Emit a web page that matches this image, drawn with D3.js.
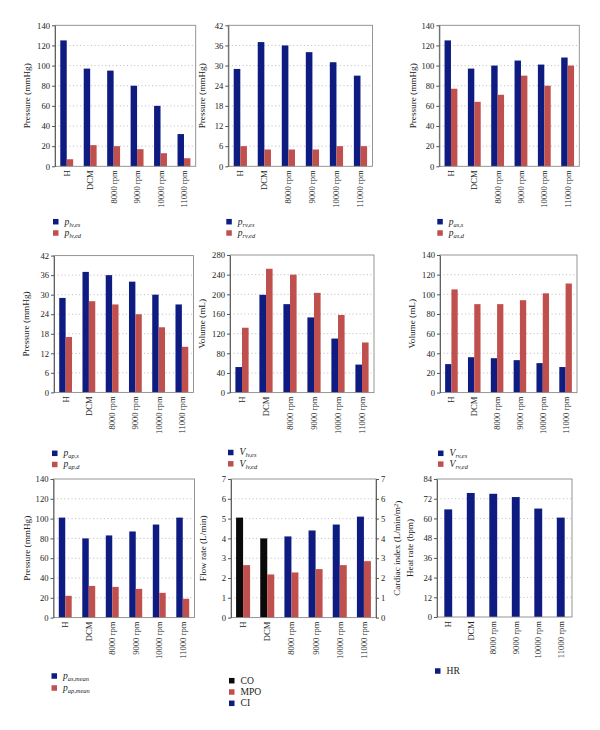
<!DOCTYPE html>
<html>
<head>
<meta charset="utf-8">
<script src="https://cdn.jsdelivr.net/npm/d3@7"></script>
<style>
  html, body { margin: 0; padding: 0; background: #fff; }
  svg { display: block; }
  text { font-family: "Liberation Serif", "DejaVu Serif", serif; fill: #222; }
</style>
</head>
<body>
<svg id="chart" width="600" height="730"></svg>
<script>
// ---------- data ----------
const categories = ["H", "DCM", "8000 rpm", "9000 rpm", "10000 rpm", "11000 rpm"];

const plvES = [125, 97, 95, 80, 60, 32];
const plvED = [7, 21, 20, 17, 13, 8];
const prvES = [29, 37, 36, 34, 31, 27];
const prvED = [6, 5, 5, 5, 6, 6];
const pasS  = [125, 97, 100, 105, 101, 108];
const pasD  = [77, 64, 71, 90, 80, 100];
const papS  = [29, 37, 36, 34, 30, 27];
const papD  = [17, 28, 27, 24, 20, 14];
const VlvES = [52, 199, 180, 153, 110, 57];
const VlvED = [132, 252, 240, 203, 158, 102];
const VrvES = [29, 36, 35, 33, 30, 26];
const VrvED = [105, 90, 90, 94, 101, 111];
const pasMean = [101, 80, 83, 87, 94, 101];
const papMean = [22, 32, 31, 29, 25, 19];
const CO  = [5.05, 4.0, null, null, null, null];
const MPO = [2.65, 2.18, 2.28, 2.45, 2.65, 2.85];
const CI  = [null, null, 4.1, 4.4, 4.7, 5.1];
const HR  = [65.5, 75.5, 75, 73, 66, 60.5];

const ticks140 = [0, 20, 40, 60, 80, 100, 120, 140];
const ticks42  = [0, 6, 12, 18, 24, 30, 36, 42];
const ticks280 = [0, 40, 80, 120, 160, 200, 240, 280];
const ticks7   = [0, 1, 2, 3, 4, 5, 6, 7];
const ticks84  = [0, 12, 24, 36, 48, 60, 72, 84];

// legend labels: [main, subscript]
const legLV   = [["p", "lv,es"], ["p", "lv,ed"]];
const legRV   = [["p", "rv,es"], ["p", "rv,ed"]];
const legAS   = [["p", "as,s"], ["p", "as,d"]];
const legAP   = [["p", "ap,s"], ["p", "ap,d"]];
const legVLV  = [["V", "lv,es"], ["V", "lv,ed"]];
const legVRV  = [["V", "rv,es"], ["V", "rv,ed"]];
const legMean = [["p", "as,mean"], ["p", "ap,mean"]];
const legFlow = [["CO", ""], ["MPO", ""], ["CI", ""]];
const legHR   = [["HR", ""]];

// ---------- styles ----------
const BLUE = "#0e1b80", RED = "#c0504d", BLACK = "#0a0a0a";
const fmt = d3.format("d");

const svg = d3.select("#chart");

function styleAxis(sel) {
  sel.select(".domain").attr("stroke", "#555").attr("stroke-width", 0.9);
  sel.selectAll(".tick line").attr("stroke", "#555");
  sel.selectAll("text").style("font-size", "8.6px").style("font-family", "Liberation Serif, serif").attr("fill", "#222");
}

function drawPanel(cfg) {
  const g = svg.append("g");
  const n = cfg.series.length;
  const x = d3.scaleBand().domain(categories).range([cfg.x0, cfg.x1])
    .paddingInner(cfg.pad).paddingOuter(cfg.pad / 2);
  const xs = d3.scaleBand().domain(d3.range(n)).range([0, x.bandwidth()]);
  const y = d3.scaleLinear().domain([0, cfg.ticks[cfg.ticks.length - 1]]).range([cfg.y1, cfg.y0]);

  // gridlines
  g.selectAll("line.grid").data(cfg.ticks.slice(1, -1)).enter().append("line")
    .attr("x1", cfg.x0).attr("x2", cfg.x1)
    .attr("y1", d => y(d)).attr("y2", d => y(d))
    .attr("stroke", "#a8a8a8").attr("stroke-width", 0.8)
    .attr("stroke-dasharray", "1,2.6");

  // bars
  cfg.series.forEach((s, si) => {
    const rows = categories.map((c, i) => {
      let v = s.values[i], col = s.color;
      if ((v === null || v === undefined) && s.alt) { v = s.alt[i]; col = s.altColor; }
      return { c, v, col };
    }).filter(r => r.v !== null && r.v !== undefined);
    g.selectAll(null).data(rows).enter().append("rect")
      .attr("x", d => x(d.c) + xs(si))
      .attr("width", xs.bandwidth())
      .attr("y", d => y(d.v))
      .attr("height", d => y(0) - y(d.v))
      .attr("fill", d => d.col);
  });

  // box
  g.append("rect").attr("x", cfg.x0).attr("y", cfg.y0)
    .attr("width", cfg.x1 - cfg.x0).attr("height", cfg.y1 - cfg.y0)
    .attr("fill", "none").attr("stroke", "#8a8a8a").attr("stroke-width", 0.9);

  // left axis
  const ax = g.append("g").attr("transform", `translate(${cfg.x0},0)`)
    .call(d3.axisLeft(y).tickValues(cfg.ticks).tickFormat(fmt).tickSize(3).tickSizeOuter(0).tickPadding(2));
  styleAxis(ax);

  // right axis (optional)
  if (cfg.rightLabel) {
    const axR = g.append("g").attr("transform", `translate(${cfg.x1},0)`)
      .call(d3.axisRight(y).tickValues(cfg.ticks).tickFormat(fmt).tickSize(3).tickSizeOuter(0).tickPadding(2));
    styleAxis(axR);
    const t = g.append("text")
      .attr("transform", `translate(${cfg.x1 + 21},${(cfg.y0 + cfg.y1) / 2}) rotate(-90)`)
      .attr("text-anchor", "middle").attr("dy", "0.35em")
      .style("font-size", "9.2px");
    t.append("tspan").text("Cardiac index (L/min/m");
    t.append("tspan").text("2").attr("dy", "-0.4em").style("font-size", "6.5px");
    t.append("tspan").text(")").attr("dy", "0.4em");
  }

  // x labels
  g.selectAll("text.xl").data(categories).enter().append("text")
    .attr("transform", d => `translate(${x(d) + x.bandwidth() / 2},${cfg.y1 + 4}) rotate(-90)`)
    .attr("text-anchor", "end").attr("dy", "0.35em")
    .style("font-size", "8.6px")
    .text(d => d);

  // y label
  g.append("text")
    .attr("transform", `translate(${cfg.x0 - cfg.ylOff},${(cfg.y0 + cfg.y1) / 2}) rotate(-90)`)
    .attr("text-anchor", "middle").attr("dy", "0.35em")
    .style("font-size", "9.2px")
    .text(cfg.ylabel);

  // legend
  cfg.legend.forEach((lab, i) => {
    const ly = cfg.legY + i * cfg.legStep;
    g.append("rect").attr("x", cfg.x0 - 2).attr("y", ly - 2.75)
      .attr("width", 5.5).attr("height", 5.5).attr("fill", cfg.legColors[i]);
    const t = g.append("text").attr("x", cfg.x0 + 9.5).attr("y", ly).attr("dy", "0.3em")
      .style("font-size", "9.6px");
    if (lab[1]) {
      t.append("tspan").text(lab[0]).style("font-style", "italic");
      t.append("tspan").text(lab[1]).attr("dy", "0.3em").style("font-size", "6.4px").style("font-style", "italic");
    } else {
      t.text(lab[0]);
    }
  });
}

const P = [
  { x0: 55, x1: 195.7, y0: 25.3, y1: 166.3, ticks: ticks140, ylabel: "Pressure (mmHg)", ylOff: 28,
    series: [{ values: plvES, color: BLUE }, { values: plvED, color: RED }], pad: 0.45,
    legend: legLV, legColors: [BLUE, RED], legY: 221.7, legStep: 11.3 },
  { x0: 228.3, x1: 372.5, y0: 25.3, y1: 166.3, ticks: ticks42, ylabel: "Pressure (mmHg)", ylOff: 26.5,
    series: [{ values: prvES, color: BLUE }, { values: prvED, color: RED }], pad: 0.45,
    legend: legRV, legColors: [BLUE, RED], legY: 221.7, legStep: 11.3 },
  { x0: 439.3, x1: 579.3, y0: 25.3, y1: 166.3, ticks: ticks140, ylabel: "Pressure (mmHg)", ylOff: 27,
    series: [{ values: pasS, color: BLUE }, { values: pasD, color: RED }], pad: 0.45,
    legend: legAS, legColors: [BLUE, RED], legY: 221.7, legStep: 11.3 },

  { x0: 54, x1: 193.5, y0: 255.6, y1: 392.4, ticks: ticks42, ylabel: "Pressure (mmHg)", ylOff: 28,
    series: [{ values: papS, color: BLUE }, { values: papD, color: RED }], pad: 0.45,
    legend: legAP, legColors: [BLUE, RED], legY: 453.3, legStep: 11.2 },
  { x0: 230, x1: 374, y0: 255, y1: 392.6, ticks: ticks280, ylabel: "Volume (mL)", ylOff: 28,
    series: [{ values: VlvES, color: BLUE }, { values: VlvED, color: RED }], pad: 0.45,
    legend: legVLV, legColors: [BLUE, RED], legY: 452.5, legStep: 11.3 },
  { x0: 440, x1: 577, y0: 255, y1: 392.6, ticks: ticks140, ylabel: "Volume (mL)", ylOff: 28,
    series: [{ values: VrvES, color: BLUE }, { values: VrvED, color: RED }], pad: 0.45,
    legend: legVRV, legColors: [BLUE, RED], legY: 453.3, legStep: 10.8 },

  { x0: 53.5, x1: 194.5, y0: 479, y1: 617.6, ticks: ticks140, ylabel: "Pressure (mmHg)", ylOff: 27,
    series: [{ values: pasMean, color: BLUE }, { values: papMean, color: RED }], pad: 0.45,
    legend: legMean, legColors: [BLUE, RED], legY: 676, legStep: 12 },
  { x0: 231, x1: 376, y0: 479, y1: 617.6, ticks: ticks7, ylabel: "Flow rate (L/min)", ylOff: 28,
    rightLabel: true,
    series: [{ values: CO, color: BLACK, alt: CI, altColor: BLUE }, { values: MPO, color: RED }], pad: 0.42,
    legend: legFlow, legColors: [BLACK, RED, BLUE], legY: 680.7, legStep: 11.3 },
  { x0: 437, x1: 572, y0: 479, y1: 617, ticks: ticks84, ylabel: "Heat rate (bpm)", ylOff: 27,
    series: [{ values: HR, color: BLUE }], pad: 0.65,
    legend: legHR, legColors: [BLUE], legY: 671, legStep: 11.3 }
];

P.forEach(drawPanel);
</script>
</body>
</html>
